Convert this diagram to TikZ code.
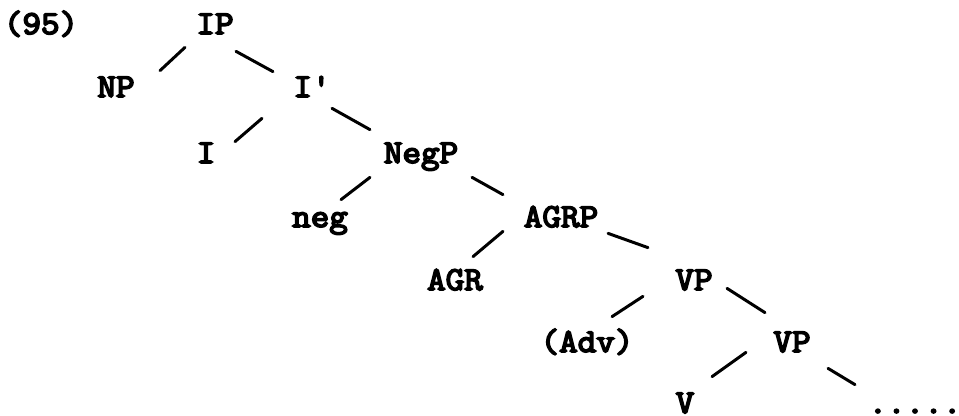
\documentclass[tikz,border=0pt]{standalone}
\usepackage{fontspec}
\setmonofont{Latin Modern Mono}[FakeBold=5, FakeStretch=1.08]
\usepackage{tikz}

\begin{document}
\begin{tikzpicture}[
    cat/.style={inner sep=0pt, anchor=base, text height=0.36cm, text depth=0pt, font=\ttfamily\fontsize{19}{22}\selectfont},
    branch/.style={black, line width=1.7pt, line cap=round}
]
\useasboundingbox (0,0) rectangle (19.18,8.32);
\node[cat] (ex)   at (0.82,7.64)  {(95)};
\node[cat] (ip)   at (4.30,7.64)  {IP};
\node[cat] (np)   at (2.32,6.38)  {NP};
\node[cat] (ibar) at (6.24,6.38)  {I'};
\node[cat] (i)    at (4.12,5.06)  {I};
\node[cat] (negp) at (8.42,5.06)  {NegP};
\node[cat] (neg)  at (6.40,3.78)  {neg};
\node[cat] (agrp) at (11.22,3.78) {AGRP};
\node[cat] (agr)  at (9.10,2.52)  {AGR};
\node[cat] (vp1)  at (13.88,2.52) {VP};
\node[cat] (adv)  at (11.74,1.28) {(Adv)};
\node[cat] (vp2)  at (15.84,1.28) {VP};
\node[cat] (v)    at (13.70,0.06) {V};
\node[cat] (rest) at (18.30,0.06) {.....};
% left branches
\draw[branch] ([shift={(-0.60,-0.26)}]ip.south)   -- ([shift={(0.88,0.16)}]np.north);
\draw[branch] ([shift={(-1.00,-0.42)}]ibar.south) -- ([shift={(0.58,0.06)}]i.north);
\draw[branch] ([shift={(-1.02,-0.28)}]negp.south) -- ([shift={(0.42,0.18)}]neg.north);
\draw[branch] ([shift={(-1.16,-0.08)}]agrp.south) -- ([shift={(0.36,0.30)}]agr.north);
\draw[branch] ([shift={(-1.02,-0.12)}]vp1.south)  -- ([shift={(0.50,0.34)}]adv.north);
\draw[branch] ([shift={(-0.92,0.00)}]vp2.south)   -- ([shift={(0.54,0.36)}]v.north);
% right branches
\draw[branch] ([shift={(0.42,-0.34)}]ip.south)    -- ([shift={(-0.78,0.14)}]ibar.north);
\draw[branch] ([shift={(0.40,-0.22)}]ibar.south)  -- ([shift={(-1.02,0.30)}]negp.north);
\draw[branch] ([shift={(1.02,-0.28)}]negp.south)  -- ([shift={(-1.16,0.28)}]agrp.north);
\draw[branch] ([shift={(0.94,-0.12)}]agrp.south)  -- ([shift={(-0.92,0.48)}]vp1.north);
\draw[branch] ([shift={(0.66,0.04)}]vp1.south)    -- ([shift={(-0.54,0.42)}]vp2.north);
\draw[branch] ([shift={(0.72,-0.32)}]vp2.south)   -- ([shift={(-1.20,0.20)}]rest.north);
\end{tikzpicture}
\end{document}
